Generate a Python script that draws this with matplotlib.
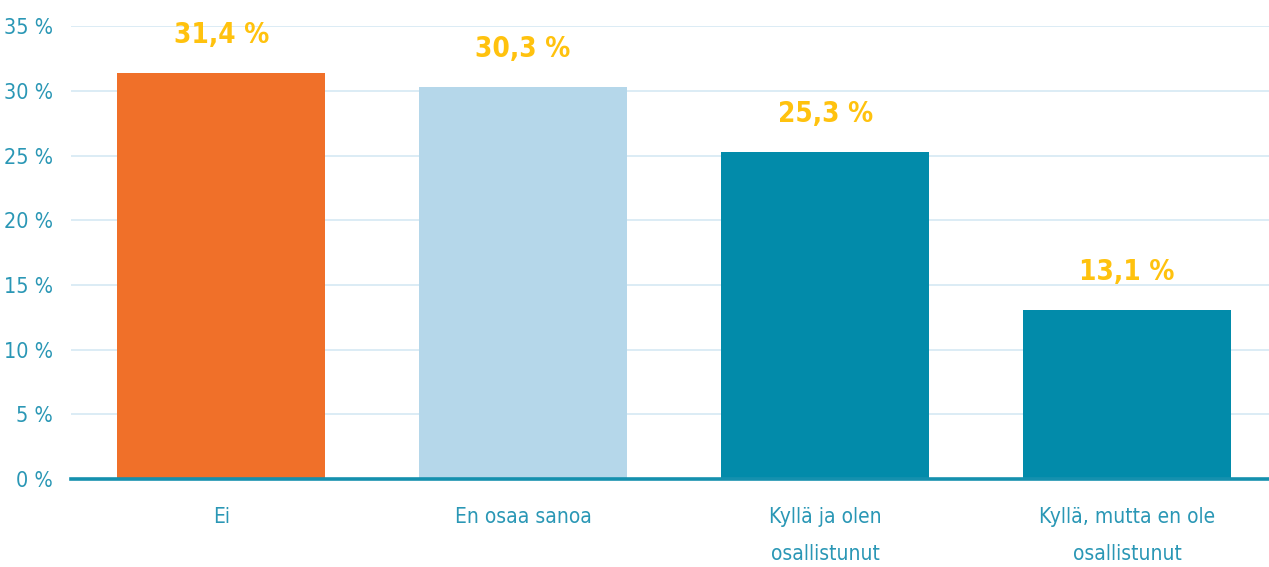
import matplotlib.pyplot as plt
from matplotlib.ticker import FuncFormatter

# ==============================
# DATA
# ==============================
categories = ["Ei", "En osaa sanoa", "Kyllä ja olen\nosallistunut",
              "Kyllä, mutta en ole\nosallistunut"]
values = [31.4, 30.3, 25.3, 13.1]
value_labels = ["31,4 %", "30,3 %", "25,3 %", "13,1 %"]
bar_colors = ["#F07029", "#B5D7EA", "#028BAA", "#028BAA"]
yticks = [0, 5, 10, 15, 20, 25, 30, 35]

TICK_COLOR = "#2A97B5"
GRID_COLOR = "#D9EAF4"
LABEL_COLOR = "#FFC20E"


def main():
    plt.rcParams["font.family"] = ["DejaVu Sans"]
    plt.rcParams["font.stretch"] = "condensed"

    fig = plt.figure(figsize=(12.69, 5.67), dpi=100)
    ax = fig.add_axes([0.056, 0.155, 0.944, 0.799])

    x = range(len(categories))
    ax.bar(x, values, width=0.69, color=bar_colors, zorder=3)

    # value labels above bars
    for xi, v, lab in zip(x, values, value_labels):
        ax.annotate(lab, (xi, v), xytext=(0, 21.5), textcoords="offset points",
                    ha="center", va="baseline", color=LABEL_COLOR,
                    fontsize=20, fontweight="bold", fontstretch="condensed")

    ax.set_xlim(-0.497, 3.47)
    ax.set_ylim(0, 35)
    ax.set_yticks(yticks)
    ax.yaxis.set_major_formatter(FuncFormatter(lambda v, p: f"{int(v)} %"))
    ax.set_xticks(list(x))
    ax.set_xticklabels(categories, linespacing=2.05)

    ax.tick_params(axis="y", length=0, pad=13, labelsize=15.5,
                   labelcolor=TICK_COLOR)
    ax.tick_params(axis="x", length=0, pad=20, labelsize=15,
                   labelcolor=TICK_COLOR)

    ax.grid(True, axis="y", color=GRID_COLOR, linewidth=1.3, zorder=0)
    ax.set_axisbelow(True)
    for s in ax.spines.values():
        s.set_visible(False)
    ax.axhline(0, color="#1590AE", linewidth=2.6, zorder=4, clip_on=False)

    fig.savefig("out.png", dpi=100)
    plt.close(fig)


if __name__ == "__main__":
    main()
